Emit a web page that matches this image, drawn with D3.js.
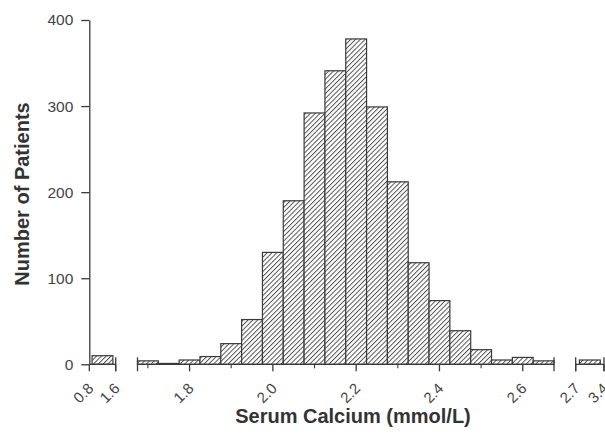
<!DOCTYPE html>
<html>
<head>
    <title>Serum Calcium Histogram</title>
    <script src="https://d3js.org/d3.v7.min.js"></script>
    <style>
        body { margin: 0; background: #fff; }
        text { font-family: "Liberation Sans", Arial, sans-serif; }
    </style>
</head>
<body>
    <div id="chart"></div>
    <script>
        // bin centres (mmol/L) and counts, main range
        var binCenters = [1.70, 1.75, 1.80, 1.85, 1.90, 1.95, 2.00, 2.05, 2.10, 2.15,
                          2.20, 2.25, 2.30, 2.35, 2.40, 2.45, 2.50, 2.55, 2.60, 2.65];
        var counts = [4, 1, 5, 9, 24, 52, 130, 190, 292, 341,
                      378, 299, 212, 118, 74, 39, 17, 5, 8, 4];

        // outlying bins on the broken segments
        var lowCenter = [1.2], lowCount = [10];
        var highCenter = [3.05], highCount = [5];

        var yTicks = [0, 100, 200, 300, 400];
        var lowTicks = [0.8, 1.6];
        var mainMajor = [1.8, 2.0, 2.2, 2.4, 2.6];
        var mainMinor = [1.7, 1.9, 2.1, 2.3, 2.5];
        var highTicks = [2.7, 3.4];

        var W = 605, H = 434;
        var ink = "#3a3a3a";

        var svg = d3.select("#chart")
            .append("svg")
            .attr("width", W)
            .attr("height", H);

        // hatch fill
        var pat = svg.append("defs").append("pattern")
            .attr("id", "hatch")
            .attr("patternUnits", "userSpaceOnUse")
            .attr("width", 3.4)
            .attr("height", 3.4)
            .attr("patternTransform", "rotate(45)");
        pat.append("rect").attr("width", 3.4).attr("height", 3.4).attr("fill", "#fff");
        pat.append("line")
            .attr("x1", 0.5).attr("y1", 0)
            .attr("x2", 0.5).attr("y2", 3.4)
            .attr("stroke", "#444")
            .attr("stroke-width", 0.9);

        var y = d3.scaleLinear().domain([0, 400]).range([364.3, 20]);
        var y0 = y(0);

        // three axis segments
        var xLow = d3.scaleLinear().domain([0.8, 1.6]).range([89.3, 115.7]);
        var xMain = d3.scaleLinear().domain([1.675, 2.675]).range([137.5, 554]);
        var xHigh = d3.scaleLinear().domain([2.7, 3.4]).range([575.7, 604]);
        var barPx = xMain(1.7) - xMain(1.65);

        function fmt(d) { return d3.format(".1f")(d); }

        function drawBars(scale, centers, values) {
            svg.append("g")
                .selectAll("rect")
                .data(values)
                .enter()
                .append("rect")
                .attr("x", function (d, i) { return scale(centers[i]) - barPx / 2; })
                .attr("y", function (d) { return y(d); })
                .attr("width", barPx)
                .attr("height", function (d) { return y0 - y(d); })
                .attr("fill", "url(#hatch)")
                .attr("stroke", ink)
                .attr("stroke-width", 1.2);
        }

        drawBars(xLow, lowCenter, lowCount);
        drawBars(xMain, binCenters, counts);
        drawBars(xHigh, highCenter, highCount);

        function drawSegment(scale, major, minor, capLeft) {
            var g = svg.append("g")
                .attr("transform", "translate(0," + y0 + ")");
            var r = scale.range();
            g.append("line")
                .attr("x1", r[0]).attr("x2", r[1])
                .attr("stroke", ink).attr("stroke-width", 1.3);
            // caps at the breaks
            var caps = capLeft ? r : [r[1]];
            g.selectAll(".cap").data(caps).enter().append("line")
                .attr("x1", function (d) { return d; })
                .attr("x2", function (d) { return d; })
                .attr("y1", -7).attr("y2", 7)
                .attr("stroke", ink).attr("stroke-width", 1.3);
            g.selectAll(".major").data(major).enter().append("line")
                .attr("x1", function (d) { return scale(d); })
                .attr("x2", function (d) { return scale(d); })
                .attr("y1", 0).attr("y2", 7)
                .attr("stroke", ink).attr("stroke-width", 1.3);
            g.selectAll(".minor").data(minor).enter().append("line")
                .attr("x1", function (d) { return scale(d); })
                .attr("x2", function (d) { return scale(d); })
                .attr("y1", 0).attr("y2", 4)
                .attr("stroke", ink).attr("stroke-width", 1.1);
            g.selectAll(".lab").data(major).enter().append("text")
                .attr("transform", function (d) {
                    return "translate(" + (scale(d) + 5) + ",25) rotate(-45)";
                })
                .attr("text-anchor", "end")
                .style("font-size", "15px")
                .attr("fill", "#444")
                .text(fmt);
        }

        drawSegment(xLow, lowTicks, [], false);
        drawSegment(xMain, mainMajor, mainMinor, true);
        drawSegment(xHigh, highTicks, [], true);

        // Y axis
        var yAxis = svg.append("g")
            .attr("transform", "translate(89.3,0)")
            .call(d3.axisLeft(y).tickValues(yTicks).tickSize(8).tickSizeOuter(0));
        yAxis.select(".domain").attr("stroke", ink).attr("stroke-width", 1.3);
        yAxis.selectAll(".tick line").attr("stroke", ink).attr("stroke-width", 1.3);
        yAxis.selectAll(".tick text")
            .attr("x", -16)
            .attr("fill", "#444")
            .style("font-size", "15.5px")
            .style("font-family", "Liberation Sans, Arial, sans-serif");

        // axis titles
        svg.append("text")
            .attr("text-anchor", "middle")
            .attr("transform", "translate(29,194) rotate(-90)")
            .style("font-size", "20px")
            .style("font-weight", "bold")
            .attr("fill", "#333")
            .text("Number of Patients");

        svg.append("text")
            .attr("text-anchor", "middle")
            .attr("x", 353)
            .attr("y", 423)
            .style("font-size", "20px")
            .style("font-weight", "bold")
            .attr("fill", "#333")
            .text("Serum Calcium (mmol/L)");
    </script>
</body>
</html>
